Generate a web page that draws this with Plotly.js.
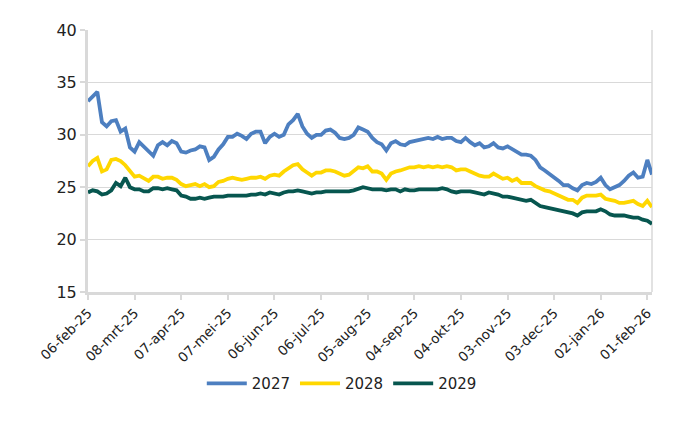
<!DOCTYPE html>
<html>
<head>
<meta charset="utf-8">
<script src="https://cdn.plot.ly/plotly-3.0.1.min.js"></script>
<style>html,body{margin:0;padding:0;background:#fff;}#chart{width:700px;height:430px;}</style>
</head>
<body>
<div id="chart"></div>
<script>
const dates = [
"2025-02-06","2025-02-09","2025-02-12","2025-02-15","2025-02-18","2025-02-21","2025-02-24","2025-02-27","2025-03-02","2025-03-05",
"2025-03-08","2025-03-11","2025-03-14","2025-03-17","2025-03-20","2025-03-23","2025-03-26","2025-03-29","2025-04-01","2025-04-04",
"2025-04-07","2025-04-10","2025-04-13","2025-04-16","2025-04-19","2025-04-22","2025-04-25","2025-04-28","2025-05-01","2025-05-04",
"2025-05-07","2025-05-10","2025-05-13","2025-05-16","2025-05-19","2025-05-22","2025-05-25","2025-05-28","2025-05-31","2025-06-03",
"2025-06-06","2025-06-09","2025-06-12","2025-06-15","2025-06-18","2025-06-21","2025-06-24","2025-06-27","2025-06-30","2025-07-03",
"2025-07-06","2025-07-09","2025-07-12","2025-07-15","2025-07-18","2025-07-21","2025-07-24","2025-07-27","2025-07-30","2025-08-02",
"2025-08-05","2025-08-08","2025-08-11","2025-08-14","2025-08-17","2025-08-20","2025-08-23","2025-08-26","2025-08-29","2025-09-01",
"2025-09-04","2025-09-07","2025-09-10","2025-09-13","2025-09-16","2025-09-19","2025-09-22","2025-09-25","2025-09-28","2025-10-01",
"2025-10-04","2025-10-07","2025-10-10","2025-10-13","2025-10-16","2025-10-19","2025-10-22","2025-10-25","2025-10-28","2025-10-31",
"2025-11-03","2025-11-06","2025-11-09","2025-11-12","2025-11-15","2025-11-18","2025-11-21","2025-11-24","2025-11-27","2025-11-30",
"2025-12-03","2025-12-06","2025-12-09","2025-12-12","2025-12-15","2025-12-18","2025-12-21","2025-12-24","2025-12-27","2025-12-30",
"2026-01-02","2026-01-05","2026-01-08","2026-01-11","2026-01-14","2026-01-17","2026-01-20","2026-01-23","2026-01-26","2026-01-29",
"2026-02-01","2026-02-04"
];

const s2027 = [
33.2,33.6,34.1,31.2,30.8,31.3,31.4,30.3,30.6,28.8,
28.4,29.3,28.9,28.5,28.0,29.0,29.3,29.0,29.4,29.2,
28.4,28.3,28.5,28.6,28.9,28.8,27.6,27.9,28.6,29.1,
29.8,29.8,30.1,29.9,29.6,30.1,30.3,30.3,29.2,29.8,
30.1,29.8,30.0,31.0,31.4,32.0,30.8,30.1,29.7,30.0,
30.0,30.4,30.5,30.2,29.7,29.6,29.7,30.0,30.7,30.5,
30.3,29.7,29.3,29.1,28.5,29.2,29.4,29.1,29.0,29.3,
29.4,29.5,29.6,29.7,29.6,29.8,29.6,29.7,29.7,29.4,
29.3,29.7,29.3,29.0,29.2,28.8,28.9,29.2,28.8,28.7,
28.9,28.6,28.4,28.1,28.1,28.0,27.6,26.9,26.6,26.3,
26.0,25.6,25.2,25.2,24.9,24.7,25.2,25.4,25.3,25.5,
25.9,25.2,24.8,25.0,25.2,25.6,26.1,26.4,25.9,26.0,
27.6,26.2
];

const s2028 = [
27.0,27.5,27.8,26.5,26.7,27.6,27.7,27.5,27.1,26.5,
26.0,26.1,25.9,25.6,26.0,26.0,25.8,25.9,25.9,25.7,
25.3,25.1,25.2,25.3,25.1,25.3,25.0,25.1,25.5,25.6,
25.8,25.9,25.8,25.7,25.8,25.9,25.9,26.0,25.8,26.1,
26.2,26.1,26.5,26.8,27.1,27.2,26.7,26.4,26.1,26.4,
26.4,26.6,26.6,26.5,26.3,26.1,26.2,26.5,26.9,26.8,
27.0,26.5,26.5,26.3,25.7,26.3,26.5,26.6,26.8,26.9,
26.9,27.0,26.9,27.0,26.9,27.0,26.9,27.0,26.9,26.6,
26.7,26.7,26.5,26.3,26.1,26.0,26.0,26.3,26.0,25.8,
25.9,25.6,25.8,25.4,25.4,25.4,25.1,24.9,24.7,24.6,
24.4,24.2,24.0,23.8,23.8,23.5,24.0,24.2,24.2,24.2,
24.3,23.9,23.8,23.7,23.5,23.5,23.6,23.7,23.4,23.2,
23.7,23.1
];

const s2029 = [
24.5,24.7,24.6,24.3,24.4,24.7,25.4,25.1,25.9,25.0,
24.8,24.8,24.6,24.6,24.9,24.9,24.8,24.9,24.8,24.7,
24.2,24.1,23.9,23.9,24.0,23.9,24.0,24.1,24.1,24.1,
24.2,24.2,24.2,24.2,24.2,24.3,24.3,24.4,24.3,24.5,
24.4,24.3,24.5,24.6,24.6,24.7,24.6,24.5,24.4,24.5,
24.5,24.6,24.6,24.6,24.6,24.6,24.6,24.7,24.9,25.0,
24.9,24.8,24.8,24.8,24.7,24.8,24.8,24.6,24.8,24.7,
24.7,24.8,24.8,24.8,24.8,24.8,24.9,24.8,24.6,24.5,
24.6,24.6,24.6,24.5,24.4,24.3,24.5,24.4,24.3,24.1,
24.1,24.0,23.9,23.8,23.7,23.8,23.5,23.2,23.1,23.0,
22.9,22.8,22.7,22.6,22.5,22.3,22.6,22.7,22.7,22.7,
22.9,22.7,22.4,22.3,22.3,22.3,22.2,22.1,22.1,21.9,
21.8,21.5
];

const tickDates = ["2025-02-06","2025-03-08","2025-04-07","2025-05-07","2025-06-06","2025-07-06","2025-08-05","2025-09-04","2025-10-04","2025-11-03","2025-12-03","2026-01-02","2026-02-01"];
const tickLabels = ["06-feb-25","08-mrt-25","07-apr-25","07-mei-25","06-jun-25","06-jul-25","05-aug-25","04-sep-25","04-okt-25","03-nov-25","03-dec-25","02-jan-26","01-feb-26"];
const seriesNames = ["2027","2028","2029"];
const seriesColors = ["#4d7fc0","#ffd700","#07564f"];

const FONT = "DejaVu Sans, Liberation Sans, sans-serif";
const GRAY = "#d9d9d9";

const traces = [s2027, s2028, s2029].map((s, i) => ({
  x: dates, y: s, type: "scatter", mode: "lines", name: seriesNames[i],
  line: {color: seriesColors[i], width: 3.8}
}));

const layout = {
  width: 700, height: 430,
  margin: {l: 88, r: 48, t: 30, b: 138},
  paper_bgcolor: "#fff", plot_bgcolor: "#fff",
  font: {family: FONT, color: "#222", size: 14},
  showlegend: true,
  legend: {orientation: "h", x: 0.45, xanchor: "center", y: -0.35, yanchor: "middle",
           font: {family: FONT, size: 15, color: "#222"}, itemwidth: 40, tracegroupgap: 0},
  xaxis: {
    type: "date", range: ["2025-02-06", "2026-02-04"],
    tickmode: "array", tickvals: tickDates, ticktext: tickLabels, tickangle: -45,
    showgrid: false, zeroline: false,
    showline: true, linecolor: GRAY, linewidth: 3,
    ticks: "outside", ticklen: 5, tickcolor: GRAY, tickwidth: 2,
    tickfont: {family: FONT, size: 13.5, color: "#222"}
  },
  yaxis: {
    range: [15, 40], tickvals: [15,20,25,30,35,40],
    showgrid: true, gridcolor: GRAY, gridwidth: 1, zeroline: false,
    showline: true, linecolor: GRAY, linewidth: 3,
    ticks: "outside", ticklen: 5, tickcolor: GRAY, tickwidth: 2,
    tickfont: {family: FONT, size: 16, color: "#222"}
  },
  shapes: [{type: "line", xref: "paper", yref: "paper", x0: 1, x1: 1, y0: 0, y1: 1,
            line: {color: GRAY, width: 1.5}, layer: "below"}]
};

Plotly.newPlot("chart", traces, layout, {displayModeBar: false, staticPlot: true});
</script>
</body>
</html>
